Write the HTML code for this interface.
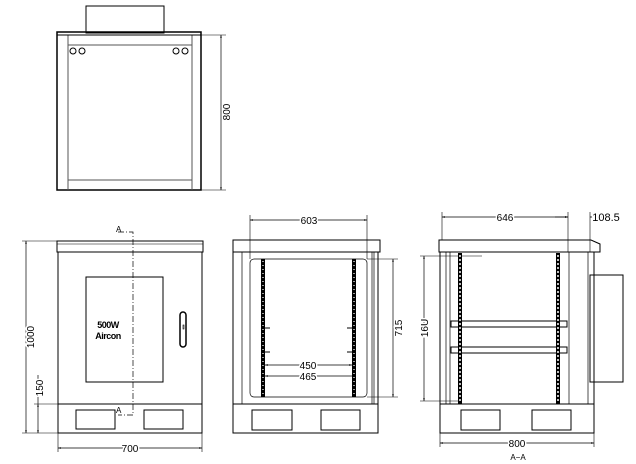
<!DOCTYPE html>
<html><head><style>body{margin:0;background:#fff}svg{display:block}text{font-family:"Liberation Sans",sans-serif;font-size:10px;fill:#000}</style></head>
<body>
<svg width="636" height="464" viewBox="0 0 636 464" xmlns="http://www.w3.org/2000/svg">
<defs>
<marker id="a" viewBox="0 0 10 10" refX="10" refY="5" markerWidth="6" markerHeight="4" orient="auto-start-reverse"><path d="M0,2 L10,5 L0,8z" fill="#000"/></marker>
</defs>
<g fill="none" stroke="#000" stroke-width="1">
<!-- TOP VIEW -->
<rect x="86" y="6" width="78" height="27"/>
<rect x="57" y="32" width="144" height="158" stroke-width="1.5"/>
<line x1="68" y1="35" x2="68" y2="190" stroke="#555"/>
<line x1="192" y1="35" x2="192" y2="190" stroke="#555"/>
<line x1="57" y1="35" x2="201" y2="35"/>
<line x1="68" y1="45" x2="192" y2="45" stroke="#555"/>
<line x1="68" y1="180" x2="192" y2="180" stroke="#555"/>
<circle cx="73" cy="51" r="3"/><circle cx="82" cy="51" r="3"/>
<circle cx="176" cy="51" r="3"/><circle cx="185" cy="51" r="3"/>
<line x1="201" y1="35" x2="226" y2="35" stroke-width=".6"/>
<line x1="201" y1="190" x2="226" y2="190" stroke-width=".6"/>
<line x1="221" y1="35" x2="221" y2="190" stroke-width=".7" marker-start="url(#a)" marker-end="url(#a)"/>

<!-- FRONT VIEW -->
<rect x="57" y="241" width="146" height="11"/>
<line x1="57" y1="244" x2="203" y2="244" stroke-width=".6"/>
<rect x="58" y="252" width="144" height="181"/>
<line x1="58" y1="404" x2="202" y2="404"/>
<rect x="86" y="277" width="77" height="105"/>
<rect x="180" y="312" width="6" height="35" rx="3" stroke-width="1.5"/>
<rect x="183" y="325" width="1" height="4" stroke-width=".6"/>
<rect x="76" y="410" width="39" height="19"/>
<rect x="144" y="410" width="39" height="19"/>
<polyline points="118,232 133,232 133,415 118,415" stroke-width=".7" stroke-dasharray="6,2,1,2"/>
<line x1="22" y1="241" x2="57" y2="241" stroke-width=".6"/>
<line x1="22" y1="433" x2="58" y2="433" stroke-width=".6"/>
<line x1="34" y1="404" x2="58" y2="404" stroke-width=".6"/>
<line x1="26" y1="241" x2="26" y2="433" stroke-width=".7" marker-start="url(#a)" marker-end="url(#a)"/>
<line x1="38" y1="404" x2="38" y2="433" stroke-width=".7" marker-start="url(#a)" marker-end="url(#a)"/>
<line x1="38" y1="375" x2="38" y2="404" stroke-width=".7"/>
<line x1="58" y1="433" x2="58" y2="452" stroke-width=".6"/>
<line x1="202" y1="404" x2="202" y2="452" stroke-width=".6"/>
<line x1="58" y1="448" x2="202" y2="448" stroke-width=".7" marker-start="url(#a)" marker-end="url(#a)"/>

<!-- MIDDLE VIEW -->
<rect x="233" y="240" width="147" height="12"/>
<rect x="233" y="252" width="145" height="181"/>
<line x1="242" y1="252" x2="242" y2="404" stroke-width=".7"/>
<line x1="372" y1="252" x2="372" y2="404" stroke-width=".7"/>
<line x1="374" y1="252" x2="374" y2="404" stroke-width=".7"/>
<line x1="233" y1="404" x2="378" y2="404"/>
<rect x="250" y="259" width="117" height="138" rx="4" stroke-width=".7"/>
<rect x="252" y="410" width="40" height="20"/>
<rect x="321" y="410" width="39" height="20"/>
<line x1="250" y1="259" x2="250" y2="215" stroke-width=".6"/>
<line x1="367" y1="259" x2="367" y2="215" stroke-width=".6"/>
<line x1="250" y1="220" x2="367" y2="220" stroke-width=".7" marker-start="url(#a)" marker-end="url(#a)"/>
<line x1="367" y1="259" x2="398" y2="259" stroke-width=".6"/>
<line x1="367" y1="397" x2="398" y2="397" stroke-width=".6"/>
<line x1="393" y1="259" x2="393" y2="397" stroke-width=".7" marker-start="url(#a)" marker-end="url(#a)"/>
<line x1="265" y1="365" x2="352" y2="365" stroke-width=".7" marker-start="url(#a)" marker-end="url(#a)"/>
<line x1="265" y1="376" x2="356" y2="376" stroke-width=".7" marker-start="url(#a)" marker-end="url(#a)"/>
<line x1="265" y1="328" x2="270" y2="328"/><line x1="265" y1="352" x2="270" y2="352"/>
<line x1="347" y1="328" x2="352" y2="328"/><line x1="347" y1="352" x2="352" y2="352"/>

<!-- RIGHT VIEW -->
<polygon points="439,240 591,240 600,244 600,252 439,252"/>
<rect x="440" y="252" width="154" height="181"/>
<line x1="440" y1="404" x2="594" y2="404"/>
<line x1="446" y1="252" x2="446" y2="404" stroke-width=".7"/>
<line x1="450" y1="252" x2="450" y2="404" stroke-width=".7"/>
<line x1="569" y1="252" x2="569" y2="404" stroke-width=".7"/>
<line x1="588" y1="252" x2="588" y2="404" stroke-width=".7"/>
<rect x="590" y="275" width="33" height="107"/>
<rect x="451" y="321" width="116" height="6"/>
<rect x="451" y="347" width="116" height="6"/>
<rect x="461" y="410" width="39" height="20"/>
<rect x="532" y="410" width="39" height="20"/>
<line x1="420" y1="256" x2="482" y2="256" stroke-width=".6"/>
<line x1="420" y1="401" x2="460" y2="401" stroke-width=".6"/>
<line x1="424" y1="256" x2="424" y2="401" stroke-width=".7" marker-start="url(#a)" marker-end="url(#a)"/>
<line x1="442" y1="240" x2="442" y2="212" stroke-width=".6"/>
<line x1="568" y1="252" x2="568" y2="212" stroke-width=".6"/>
<line x1="590" y1="252" x2="590" y2="212" stroke-width=".6"/>
<line x1="442" y1="217" x2="568" y2="217" stroke-width=".7" marker-start="url(#a)" marker-end="url(#a)"/>
<line x1="555" y1="217" x2="568" y2="217" stroke-width=".7" marker-end="url(#a)"/>
<line x1="603" y1="217" x2="590" y2="217" stroke-width=".7" marker-end="url(#a)"/>
<line x1="440" y1="433" x2="440" y2="447" stroke-width=".6"/>
<line x1="594" y1="433" x2="594" y2="447" stroke-width=".6"/>
<line x1="440" y1="443" x2="594" y2="443" stroke-width=".7" marker-start="url(#a)" marker-end="url(#a)"/>
</g>
<!-- rails -->
<g>
<rect x="261" y="259" width="4" height="138" fill="#000"/>
<line x1="263" y1="261" x2="263" y2="396" stroke="#fff" stroke-width="1.2" stroke-dasharray="1,3"/>
<rect x="352" y="259" width="4" height="138" fill="#000"/>
<line x1="354" y1="261" x2="354" y2="396" stroke="#fff" stroke-width="1.2" stroke-dasharray="1,3"/>
<rect x="458" y="253" width="4" height="151" fill="#000"/>
<line x1="460" y1="255" x2="460" y2="403" stroke="#fff" stroke-width="1.5" stroke-dasharray="2,2"/>
<rect x="556" y="253" width="4" height="151" fill="#000"/>
<line x1="558" y1="255" x2="558" y2="403" stroke="#fff" stroke-width="1.5" stroke-dasharray="2,2"/>
</g>
<!-- labels -->
<g fill="#000" stroke="#fff" stroke-width="3" paint-order="stroke">
<text transform="translate(230,112) rotate(-90)" text-anchor="middle">800</text>
<text transform="translate(34,337) rotate(-90)" text-anchor="middle">1000</text>
<text transform="translate(43,388) rotate(-90)" text-anchor="middle">150</text>
<text x="130" y="452" text-anchor="middle">700</text>
<text x="309" y="224" text-anchor="middle">603</text>
<text transform="translate(402,328) rotate(-90)" text-anchor="middle">715</text>
<text x="308" y="369" text-anchor="middle">450</text>
<text x="308" y="380" text-anchor="middle">465</text>
<text x="505" y="221" text-anchor="middle">646</text>
<text x="606" y="221" text-anchor="middle" style="font-size:11px">108.5</text>
<text transform="translate(428,328) rotate(-90)" text-anchor="middle">16U</text>
<text x="517" y="447" text-anchor="middle">800</text>
</g>
<text x="116" y="232" style="font-size:8px">A</text>
<text x="116" y="413" style="font-size:8px">A</text>
<text x="518" y="460" text-anchor="middle" style="font-size:8px">A−A</text>
<text x="108" y="328" text-anchor="middle" style="font-size:9px;font-weight:bold;letter-spacing:-.5px">500W</text>
<text x="108" y="339" text-anchor="middle" style="font-size:9px;font-weight:bold;letter-spacing:-.5px">Aircon</text>
</svg>
</body></html>
